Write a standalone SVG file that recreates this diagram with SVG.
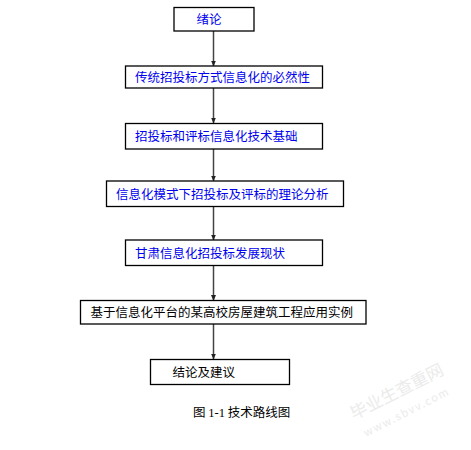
<svg xmlns="http://www.w3.org/2000/svg" width="471" height="450" viewBox="0 0 471 450">
<defs>
<style>
.box{fill:#fff;stroke:#000;stroke-width:1.3}
.t{font-family:"Noto Sans CJK SC","Noto Sans CJK JP",sans-serif;font-size:12.5px}
.b{fill:#0000ee}
.k{fill:#000}
.ln{stroke:#444;stroke-width:1.5;fill:none}
.wm{fill:#ebebeb;font-family:"Noto Sans CJK SC",sans-serif}
</style>
<marker id="ah" markerWidth="6" markerHeight="5" refX="5.5" refY="2.5" orient="auto" markerUnits="userSpaceOnUse">
<path d="M0,0 L6,2.5 L0,5 Z" fill="#222"/>
</marker>
</defs>
<rect width="471" height="450" fill="#fff"/>
<g id="connectors">
<line class="ln" x1="213.5" y1="31" x2="213.5" y2="66" marker-end="url(#ah)"/>
<line class="ln" x1="213.5" y1="88" x2="213.5" y2="123" marker-end="url(#ah)"/>
<line class="ln" x1="213.5" y1="149" x2="213.5" y2="181" marker-end="url(#ah)"/>
<line class="ln" x1="213.5" y1="207" x2="213.5" y2="240" marker-end="url(#ah)"/>
<line class="ln" x1="213.5" y1="265" x2="213.5" y2="300.5" marker-end="url(#ah)"/>
<line class="ln" x1="213.5" y1="324" x2="213.5" y2="359" marker-end="url(#ah)"/>
</g>
<g id="n1"><rect class="box" x="174" y="7.5" width="80" height="23.5"/><text class="t b" x="196.5" y="24">绪论</text></g>
<g id="n2"><rect class="box" x="125.5" y="66" width="197" height="22"/><text class="t b" x="135" y="82">传统招投标方式信息化的必然性</text></g>
<g id="n3"><rect class="box" x="125.5" y="123.5" width="197" height="25.5"/><text class="t b" x="135" y="141">招投标和评标信息化技术基础</text></g>
<g id="n4"><rect class="box" x="106.5" y="181" width="237" height="25.5"/><text class="t b" x="116" y="198.5">信息化模式下招投标及评标的理论分析</text></g>
<g id="n5"><rect class="box" x="125.5" y="240" width="197" height="25.5"/><text class="t b" x="135" y="257.5">甘肃信息化招投标发展现状</text></g>
<g id="n6"><rect class="box" x="80.5" y="300.5" width="285.5" height="23.5"/><text class="t k" x="90.5" y="317">基于信息化平台的某高校房屋建筑工程应用实例</text></g>
<g id="n7"><rect class="box" x="150.5" y="359.5" width="139" height="25"/><text class="t k" x="172.5" y="376.5">结论及建议</text></g>
<text x="193" y="417" font-size="12.5" fill="#000"><tspan font-family="Noto Sans CJK SC,sans-serif">图 </tspan><tspan font-family="Liberation Serif,serif">1-1</tspan><tspan font-family="Noto Sans CJK SC,sans-serif"> 技术路线图</tspan></text>
<text class="wm" font-size="17" transform="translate(354,420) rotate(-27)">毕业生查重网</text>
<text class="wm" font-size="11" font-family="Liberation Serif,serif" transform="translate(366,437) rotate(-27)" letter-spacing="1.5">www.sbvv.com</text>
</svg>
